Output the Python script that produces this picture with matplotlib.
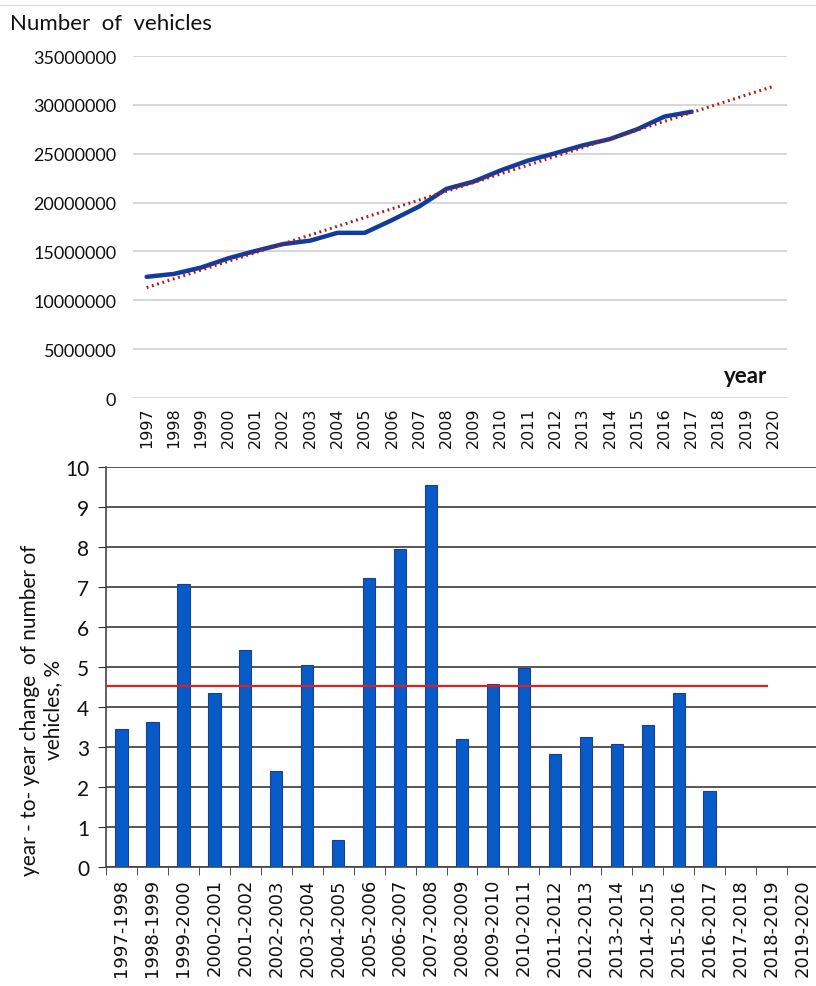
import numpy as np
import matplotlib
matplotlib.use("Agg")
import matplotlib.pyplot as plt
from matplotlib.lines import Line2D

# -------------------------------------
# Data
# -------------------------------------
years = [str(y) for y in range(1997, 2021)]
vehicles = [12.4e6, 12.7e6, 13.35e6, 14.3e6, 15.05e6, 15.75e6, 16.1e6,
            16.9e6, 16.9e6, 18.2e6, 19.6e6, 21.4e6, 22.15e6, 23.3e6,
            24.3e6, 25.05e6, 25.85e6, 26.5e6, 27.5e6, 28.8e6, 29.3e6]

periods = [f"{y}-{y + 1}" for y in range(1997, 2020)]
change_pct = [3.44, 3.63, 7.08, 4.35, 5.43, 2.39, 5.04, 0.67, 7.23, 7.96,
              9.54, 3.21, 4.57, 4.98, 2.82, 3.24, 3.08, 3.54, 4.35, 1.90]
avg_change = 4.52

LABEL_FONT = ["Lato", "DejaVu Sans"]

fig = plt.figure(figsize=(8.16, 9.87), dpi=100)
fig.add_artist(Line2D([0.0, 1.0], [0.994, 0.994], color="#dddddd", linewidth=1))

# -------------------------------------
# Top: number of vehicles
# -------------------------------------
ax1 = fig.add_axes([133 / 816, 1 - 399 / 987, 654 / 816, 342 / 987])
x_all = np.arange(len(years))
x_data = np.arange(len(vehicles))
ax1.plot(x_data, vehicles, color="#123c9c", linewidth=3.2, solid_capstyle="round", zorder=3)
coef = np.polyfit(x_data, vehicles, 1)
ax1.plot(x_all, np.polyval(coef, x_all), color="#b01818", linewidth=2.2,
         linestyle=(0, (0.6, 1.2)), zorder=4)

ax1.set_xlim(-0.5, len(years) - 0.5)
ax1.set_ylim(0, 35e6)
ax1.set_yticks(np.arange(0, 35e6 + 1, 5e6))
ax1.set_yticklabels([f"{int(v)}" for v in np.arange(0, 35e6 + 1, 5e6)],
                    fontsize=13, family=LABEL_FONT, color="#111111")
ax1.set_xticks(x_all)
ax1.set_xticklabels(years, rotation=90, fontsize=11.5, color="#111111")
ax1.tick_params(length=0, pad=12)
ax1.tick_params(axis="x", pad=6)
ax1.grid(axis="y", color="#d4d4d4", linewidth=1.3)
ax1.set_axisbelow(True)
for s in ax1.spines.values():
    s.set_visible(False)
fig.text(10 / 816, 1 - 24 / 987, "Number  of  vehicles", fontsize=16, family=LABEL_FONT,
         color="#111111", va="center", ha="left")
ax1.text(0.97, 0.065, "year", transform=ax1.transAxes, fontsize=16, family=LABEL_FONT,
         fontweight="bold", color="#111111", ha="right", va="center")

# -------------------------------------
# Bottom: year-to-year change
# -------------------------------------
ax2 = fig.add_axes([106 / 816, 1 - 868 / 987, 712 / 816, 400 / 987])
xb = np.arange(len(change_pct))
ax2.bar(xb, change_pct, width=0.4, color="#075bc8", edgecolor="#1d3f8a", linewidth=0.8, zorder=3)
ax2.hlines(avg_change, -0.5, 20.9, color="#e0201e", linewidth=1.6, zorder=4)

ax2.set_xlim(-0.5, len(periods) - 0.5)
ax2.set_ylim(0, 10)
ax2.set_yticks(range(0, 11))
ax2.set_yticklabels([str(v) for v in range(0, 11)], fontsize=15, family=LABEL_FONT, color="#111111")
ax2.set_xticks(np.arange(len(periods)))
ax2.set_xticklabels(periods, rotation=90, fontsize=13, color="#111111")
ax2.set_xticks(np.arange(len(periods) + 1) - 0.5, minor=True)
ax2.tick_params(axis="x", which="major", length=0, pad=8)
ax2.tick_params(axis="x", which="minor", length=6, direction="out", color="#333333")
ax2.tick_params(axis="y", length=6, direction="out", color="#333333", pad=6)
ax2.grid(axis="y", color="#3a3a3a", linewidth=1.2)
ax2.set_axisbelow(True)
for name in ["top", "right"]:
    ax2.spines[name].set_visible(False)
for name in ["left", "bottom"]:
    ax2.spines[name].set_color("#444444")
    ax2.spines[name].set_linewidth(1.2)
ax2.set_ylabel("year - to- year change  of number of\nvehicles, %", fontsize=15,
               family=LABEL_FONT, color="#111111")
ax2.yaxis.set_label_coords(-0.06, 0.395)

fig.savefig("out.png", dpi=100)
